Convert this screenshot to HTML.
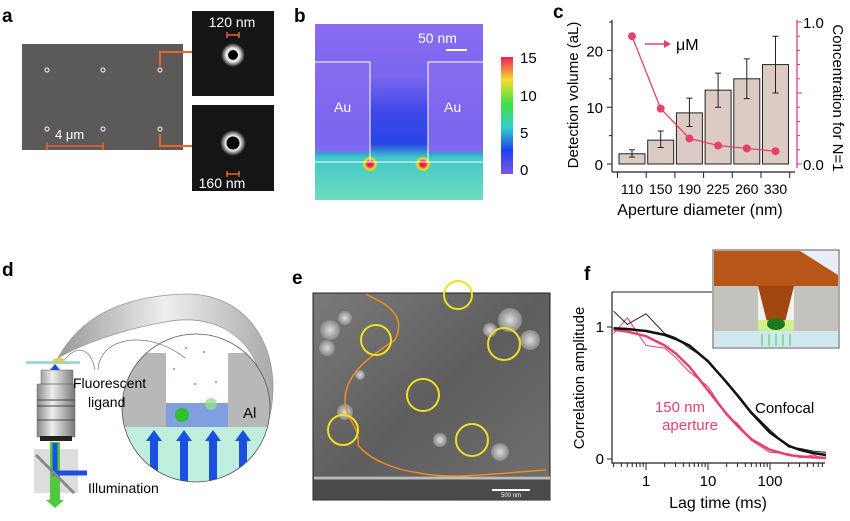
<!DOCTYPE html>
<html><head><meta charset="utf-8"><style>
body{margin:0;width:850px;height:521px;background:#fff;overflow:hidden;font-family:"Liberation Sans",sans-serif}
svg{display:block}
</style></head><body>
<svg id="fig" width="850" height="521" viewBox="0 0 850 521" font-family="Liberation Sans, sans-serif">
<defs>
<linearGradient id="gb" x1="0" y1="0" x2="0" y2="1">
<stop offset="0" stop-color="#8a6cf0"/><stop offset="0.3" stop-color="#7a66f0"/><stop offset="0.5" stop-color="#4048e8"/><stop offset="0.68" stop-color="#2a44e8"/><stop offset="0.76" stop-color="#40c8c8"/><stop offset="1" stop-color="#6fdcc0"/></linearGradient>
<linearGradient id="cb" x1="0" y1="1" x2="0" y2="0">
<stop offset="0" stop-color="#7d55e8"/><stop offset="0.2" stop-color="#2040f0"/><stop offset="0.4" stop-color="#30d0d0"/><stop offset="0.6" stop-color="#40e040"/><stop offset="0.8" stop-color="#f0e030"/><stop offset="1" stop-color="#f02050"/></linearGradient>
<radialGradient id="ring"><stop offset="0.3" stop-color="#000"/><stop offset="0.4" stop-color="#fff"/><stop offset="0.6" stop-color="#ddd"/><stop offset="1" stop-color="#111"/></radialGradient>
<radialGradient id="hot"><stop offset="0.3" stop-color="#f02050"/><stop offset="0.6" stop-color="#f0e030"/><stop offset="1" stop-color="#40e040" stop-opacity="0"/></radialGradient>
<linearGradient id="sem" x1="0" y1="0" x2="1" y2="1"><stop offset="0" stop-color="#7a7a7a"/><stop offset="0.5" stop-color="#5e5e5e"/><stop offset="1" stop-color="#707070"/></linearGradient>
<linearGradient id="arch" x1="0" y1="0" x2="1" y2="0"><stop offset="0" stop-color="#999"/><stop offset="0.5" stop-color="#eee"/><stop offset="1" stop-color="#aaa"/></linearGradient>
<linearGradient id="obj" x1="0" y1="0" x2="1" y2="0"><stop offset="0" stop-color="#888"/><stop offset="0.4" stop-color="#eee"/><stop offset="1" stop-color="#777"/></linearGradient>
<clipPath id="cc"><circle cx="196" cy="408" r="74"/></clipPath>
<radialGradient id="blob"><stop offset="0" stop-color="#ddd"/><stop offset="1" stop-color="#888"/></radialGradient>
</defs>

<!-- panel a -->
<g>
<text x="2" y="22" font-size="19" font-weight="bold">a</text>
<rect x="22" y="44" width="161" height="106" fill="#5c5a58"/>
<g fill="none" stroke="#ddd" stroke-width="1.2">
<circle cx="47" cy="70" r="2"/><circle cx="103" cy="70" r="2"/><circle cx="160" cy="70" r="2"/>
<circle cx="47" cy="129" r="2"/><circle cx="103" cy="129" r="2"/><circle cx="160" cy="129" r="2"/></g>
<text x="55" y="139" font-size="13" fill="#fff">4 μm</text>
<path d="M47 146H103M47 142V150M103 142V150" stroke="#f06030" stroke-width="1.5"/>
<path d="M160 66V52H197M160 134V146H197" stroke="#f06030" stroke-width="2" fill="none"/>
<path d="M197 47l8 5-8 5zM197 141l8 5-8 5z" fill="#f06030"/>
<rect x="192" y="11" width="82" height="85" fill="#151515"/>
<rect x="192" y="105" width="82" height="86" fill="#151515"/>
<circle cx="233" cy="55" r="12" fill="url(#ring)"/><circle cx="233" cy="55" r="5" fill="#000"/>
<circle cx="233" cy="143" r="13" fill="url(#ring)"/><circle cx="233" cy="143" r="6.5" fill="#000"/>
<text x="232" y="27" font-size="14" fill="#fff" text-anchor="middle">120 nm</text>
<path d="M227 35H239M227 32V38M239 32V38" stroke="#f06030" stroke-width="1.5"/>
<path d="M227 174H239M227 171V177M239 171V177" stroke="#f06030" stroke-width="1.5"/>
<text x="222" y="188" font-size="14" fill="#fff" text-anchor="middle">160 nm</text>
</g>

<!-- panel b -->
<g>
<text x="294" y="22" font-size="19" font-weight="bold">b</text>
<rect x="315" y="24" width="168" height="176" fill="url(#gb)"/>
<rect x="315" y="62" width="55" height="90" fill="#8a6cf0" opacity="0.85"/>
<rect x="428" y="62" width="55" height="90" fill="#8a6cf0" opacity="0.85"/>
<circle cx="370" cy="164" r="9" fill="url(#hot)"/><circle cx="423" cy="164" r="9" fill="url(#hot)"/>
<path d="M315 62H370V162H315M483 62H428V162H483M315 162H483" stroke="#fff" stroke-width="1" fill="none"/>
<text x="334" y="112" font-size="14" fill="#fff">Au</text>
<text x="444" y="112" font-size="14" fill="#fff">Au</text>
<text x="418" y="43" font-size="14" fill="#fff">50 nm</text>
<path d="M446 50H467" stroke="#fff" stroke-width="2"/>
<rect x="501" y="57" width="12" height="117" fill="url(#cb)"/>
<g font-size="15"><text x="520" y="63">15</text><text x="520" y="101">10</text><text x="520" y="138">5</text><text x="520" y="175">0</text></g>
</g>

<!-- panel c -->
<g id="pc">
<text x="553" y="18" font-size="19" font-weight="bold">c</text>
</g>

<!-- panel d -->
<g>
<text x="2" y="276" font-size="19" font-weight="bold">d</text>
<path d="M58 358C80 318 120 296 185 294C240 293 272 335 273 385C273 405 270 418 266 428C268 400 262 365 245 345C225 322 195 316 165 322C120 330 80 345 58 358Z" fill="url(#arch)" stroke="#999" stroke-width="0.8"/>
<circle cx="196" cy="408" r="74" fill="#fff"/>
<g clip-path="url(#cc)">
<rect x="120" y="427" width="152" height="60" fill="#bfeedc"/>
<rect x="120" y="353" width="46" height="74" fill="#b8b8b8"/>
<rect x="228" y="353" width="46" height="74" fill="#b8b8b8"/>
<rect x="166" y="403" width="62" height="24" fill="#7f9fe0"/>
<circle cx="182" cy="415" r="7" fill="#30c030"/>
<circle cx="211" cy="404" r="6" fill="#90e090" opacity="0.8"/>
<g fill="#1a50e0"><path d="M150 485V441h-4l8-11 8 11h-4v44z"/><path d="M180 485V441h-4l8-11 8 11h-4v44z"/><path d="M209 485V441h-4l8-11 8 11h-4v44z"/><path d="M239 485V441h-4l8-11 8 11h-4v44z"/></g>
</g>
<circle cx="196" cy="408" r="74" fill="none" stroke="#555" stroke-width="0.8"/>
<path d="M62 363C75 345 90 345 95 370M98 370C100 335 150 330 185 358" stroke="#555" stroke-width="0.6" fill="none"/>
<g fill="#3a3" opacity="0.8"><circle cx="186" cy="348" r="1"/><circle cx="204" cy="352" r="1"/><circle cx="174" cy="369" r="1"/><circle cx="195" cy="384" r="1"/><circle cx="216" cy="382" r="1"/></g>
<text x="243" y="418" font-size="15">Al</text>
<rect x="26" y="361" width="54" height="3" fill="#9ed8d0"/>
<ellipse cx="59" cy="360" rx="6" ry="2" fill="#e0d040"/>
<path d="M55 364l-5 6h10z" fill="#1a50e0"/>
<path d="M41 370h32v14H41zM37 384h38v53H37z" fill="url(#obj)" stroke="#666" stroke-width="0.5"/>
<path d="M37 400h38M37 406h38M37 420h38" stroke="#444"/>
<rect x="40" y="436" width="32" height="5" fill="#222"/>
<rect x="34" y="449" width="44" height="44" fill="#ddd"/>
<rect x="50" y="442" width="10" height="58" fill="#50c840"/>
<path d="M46 500h18l-9 8z" fill="#50c840"/>
<path d="M55 443v30h32" stroke="#1a50e0" stroke-width="5" fill="none"/>
<path d="M36 455l38 38" stroke="#888" stroke-width="3"/>
<text x="73" y="388" font-size="14">Fluorescent</text>
<text x="88" y="407" font-size="14">ligand</text>
<text x="88" y="493" font-size="14">Illumination</text>
</g>

<!-- panel e -->
<g>
<text x="292" y="284" font-size="19" font-weight="bold">e</text>
<rect x="313" y="293" width="237" height="207" fill="url(#sem)" stroke="#222"/>
<g fill="url(#blob)"><circle cx="330" cy="330" r="10"/><circle cx="327" cy="348" r="8"/><circle cx="345" cy="318" r="7"/><circle cx="510" cy="320" r="12"/><circle cx="530" cy="340" r="10"/><circle cx="490" cy="330" r="7"/><circle cx="345" cy="412" r="8"/><circle cx="440" cy="440" r="7"/><circle cx="500" cy="452" r="9"/><circle cx="360" cy="375" r="5"/></g>
<rect x="314" y="476" width="236" height="23" fill="#4a4a4a"/>
<path d="M314 478h236" stroke="#bbb" stroke-width="3"/>
<path d="M366 294C375 300 410 310 395 340C380 350 345 370 345 400C345 420 360 425 358 445C370 460 395 470 420 473C450 480 500 473 546 470" stroke="#f08c20" stroke-width="1.5" fill="none"/>
<g fill="none" stroke="#f0e020" stroke-width="2">
<circle cx="376" cy="340" r="15"/><circle cx="458" cy="295" r="14"/><circle cx="504" cy="344" r="16"/><circle cx="423" cy="395" r="16"/><circle cx="343" cy="430" r="15"/><circle cx="472" cy="440" r="16"/></g>
<path d="M492 490H530" stroke="#fff" stroke-width="2"/>
<text x="511" y="497" font-size="6" fill="#fff" text-anchor="middle">500 nm</text>
</g>

<!-- panel f -->
<g id="pf">
<text x="584" y="280" font-size="19" font-weight="bold">f</text>
</g>
</svg>
<script>
const NS='http://www.w3.org/2000/svg';
function mk(p,t,a,txt){const e=document.createElementNS(NS,t);for(const k in a)e.setAttribute(k,a[k]);if(txt!==undefined)e.textContent=txt;p.appendChild(e);return e;}

// ---- panel c data ----
const cCategories=['110','150','190','225','260','330'];
const cVolume=[1.8,4.2,9.0,13.0,15.0,17.5];
const cErrLow=[1.2,2.9,6.6,10.0,11.5,12.5];
const cErrHigh=[2.5,5.8,11.6,16.0,18.5,22.5];
const cConc=[0.90,0.39,0.18,0.13,0.11,0.09];
const cLeftTicks=[0,10,20];
const cRightTicks=[0.0,1.0];

// ---- panel f data ----
const fLag=[0.3,0.5,1,2,3,5,10,20,30,50,100,200,300,500,800];
const fConfocalFit=[0.99,0.985,0.97,0.94,0.91,0.86,0.74,0.58,0.48,0.35,0.20,0.10,0.07,0.045,0.03];
const fApertureFit=[0.98,0.965,0.93,0.86,0.80,0.70,0.52,0.34,0.25,0.15,0.07,0.03,0.02,0.012,0.008];
const fConfocalRaw=[1.12,1.02,1.10,0.95,0.92,0.84,0.75,0.57,0.49,0.36,0.22,0.09,0.08,0.06,0.05];
const fApertureRaw=[0.95,1.07,0.86,0.84,0.77,0.66,0.55,0.33,0.27,0.14,0.05,0.04,0.01,0.03,0.0];
const fXTicks=[1,10,100];
const fYTicks=[0,1];

// panel c
const pc=document.getElementById('pc');
const cx0=612,cx1=797,cyB=164,cyPer=5.68;
const yL=v=>cyB-v*cyPer;
const yR=v=>cyB-v*142;
const slot=28.7,bx0=619,bw=26;
const xc=i=>bx0+i*slot+bw/2;
let e;
e=mk(pc,'line',{x1:cx0,y1:20,x2:cx0,y2:cyB+8,stroke:'#222','stroke-width':1.2});


cLeftTicks.forEach(v=>{mk(pc,'line',{x1:cx0-5,y1:yL(v),x2:cx0,y2:yL(v),stroke:'#222'});
 e=mk(pc,'text',{x:cx0-9,y:yL(v)+6,'font-size':15,'text-anchor':'end'},String(v));
 
 });
[5,15,25].forEach(v=>mk(pc,'line',{x1:cx0-3,y1:yL(v),x2:cx0,y2:yL(v),stroke:'#222'}));
e=mk(pc,'line',{x1:cx1,y1:20,x2:cx1,y2:cyB+4,stroke:'#e0306a','stroke-width':1.2});


for(let k=0;k<=10;k++)mk(pc,'line',{x1:cx1,y1:yR(k/10),x2:cx1+(k%5==0?5:3),y2:yR(k/10),stroke:'#e0306a'});
cRightTicks.forEach(v=>{e=mk(pc,'text',{x:cx1+6,y:yR(v)+6,'font-size':15},v.toFixed(1));
 
 });
mk(pc,'line',{x1:cx0,y1:cyB+8,x2:cx1-2,y2:cyB+8,stroke:'#222','stroke-width':1.2});
for(let i=0;i<=cCategories.length;i++)mk(pc,'line',{x1:bx0+i*slot-1.5,y1:cyB+8,x2:bx0+i*slot-1.5,y2:cyB+14,stroke:'#222'});
cCategories.forEach((c,i)=>{
 e=mk(pc,'rect',{x:bx0+i*slot,y:yL(cVolume[i]),width:bw,height:cyB-yL(cVolume[i]),fill:'#dccbc4',stroke:'#222','stroke-width':1});
 
 
 e=mk(pc,'path',{d:`M${xc(i)} ${yL(cErrLow[i])}V${yL(cErrHigh[i])}M${xc(i)-3} ${yL(cErrLow[i])}h6M${xc(i)-3} ${yL(cErrHigh[i])}h6`,stroke:'#222',fill:'none'});
 
 
 e=mk(pc,'text',{x:xc(i),y:cyB+30,'font-size':14,'text-anchor':'middle'},c);
 
 
});
let d='';
cConc.forEach((v,i)=>{d+=(i?'L':'M')+xc(i)+' '+yR(v);});
e=mk(pc,'path',{d:d,stroke:'#e8406e','stroke-width':1.3,fill:'none'});


cConc.forEach((v,i)=>{e=mk(pc,'circle',{cx:xc(i),cy:yR(v),r:4,fill:'#e8406e'});
 
 });
mk(pc,'path',{d:'M645 44H665',stroke:'#e8406e','stroke-width':1.5});
mk(pc,'path',{d:'M664 40l7 4-7 4z',fill:'#e8406e'});
e=mk(pc,'text',{x:676,y:50,'font-size':16},'μM');


e=mk(pc,'text',{x:700,y:215,'font-size':16,'text-anchor':'middle'},'Aperture  diameter (nm)');


e=mk(pc,'text',{transform:'translate(578,95) rotate(-90)','font-size':15,'text-anchor':'middle'},'Detection volume (aL)');


e=mk(pc,'text',{transform:'translate(833,98) rotate(90)','font-size':15,'text-anchor':'middle'},'Concentration for N=1');



// panel f
const pf=document.getElementById('pf');
const fx0=612,fx1=825,fyTop=292,fy0=459,fy1=327;
const X=t=>646+Math.log10(t)*62;
const Y=v=>fy0-v*(fy0-fy1);
e=mk(pf,'path',{d:`M${fx0} ${fyTop}V${fy0+4}H${fx1}`,stroke:'#222','stroke-width':1.2,fill:'none'});


mk(pf,'line',{x1:fx0,y1:fyTop,x2:712,y2:fyTop,stroke:'#222'});
fYTicks.forEach(v=>{mk(pf,'line',{x1:fx0-5,y1:Y(v),x2:fx0,y2:Y(v),stroke:'#222'});
 e=mk(pf,'text',{x:fx0-8,y:Y(v)+5,'font-size':15,'text-anchor':'end'},String(v));
 
 });
for(let dec=0.1;dec<1000;dec*=10)for(let m=1;m<10;m++){const t=dec*m;const x=X(t);if(x<fx0||x>fx1)continue;
 mk(pf,'line',{x1:x,y1:fy0+4,x2:x,y2:fy0+(m==1?11:8),stroke:'#222'});}
fXTicks.forEach(t=>{e=mk(pf,'text',{x:X(t),y:fy0+27,'font-size':15,'text-anchor':'middle'},String(t));
 
 });
function line(vals,col,w){let s='';vals.forEach((v,i)=>{s+=(i?'L':'M')+X(fLag[i]).toFixed(1)+' '+Y(v).toFixed(1);});
 return mk(pf,'path',{d:s,stroke:col,'stroke-width':w,fill:'none','stroke-linejoin':'round'});}
e=line(fApertureRaw,'#e8406e',1);


e=line(fConfocalRaw,'#222',1);


e=line(fApertureFit,'#e8406e',2.5);


e=line(fConfocalFit,'#111',2.5);


e=mk(pf,'text',{x:755,y:413,'font-size':15},'Confocal');


e=mk(pf,'text',{x:680,y:412,'font-size':15,fill:'#e8406e','text-anchor':'middle'},'150 nm');


e=mk(pf,'text',{x:690,y:430,'font-size':15,fill:'#e8406e','text-anchor':'middle'},'aperture');


e=mk(pf,'text',{x:718,y:508,'font-size':16,'text-anchor':'middle'},'Lag time (ms)');


e=mk(pf,'text',{transform:'translate(584,378) rotate(-90)','font-size':15,'text-anchor':'middle'},'Correlation amplitude');


const ig=mk(pf,'g',{});


mk(ig,'rect',{x:713,y:250,width:126,height:98,fill:'#fff',stroke:'#555'});
mk(ig,'rect',{x:714,y:251,width:124,height:35,fill:'#b8561a'});
mk(ig,'path',{d:'M800 251L838 251L838 275Z',fill:'#e8eef8'});
mk(ig,'rect',{x:714,y:286,width:124,height:45,fill:'#c4c2bc'});
mk(ig,'rect',{x:758,y:286,width:36,height:45,fill:'#f0f0f0'});
mk(ig,'path',{d:'M758 286H794L784 326H768Z',fill:'#a0460e'});
mk(ig,'rect',{x:758,y:320,width:36,height:11,fill:'#c8f070',opacity:0.8});
mk(ig,'ellipse',{cx:776,cy:324,rx:9,ry:6,fill:'#1d7a20'});
mk(ig,'rect',{x:714,y:331,width:124,height:16,fill:'#cfe8f0'});
for(let i=0;i<5;i++)mk(ig,'line',{x1:762+i*7,y1:346,x2:762+i*7,y2:334,stroke:'#40d040','stroke-width':1});
</script>
</body></html>
